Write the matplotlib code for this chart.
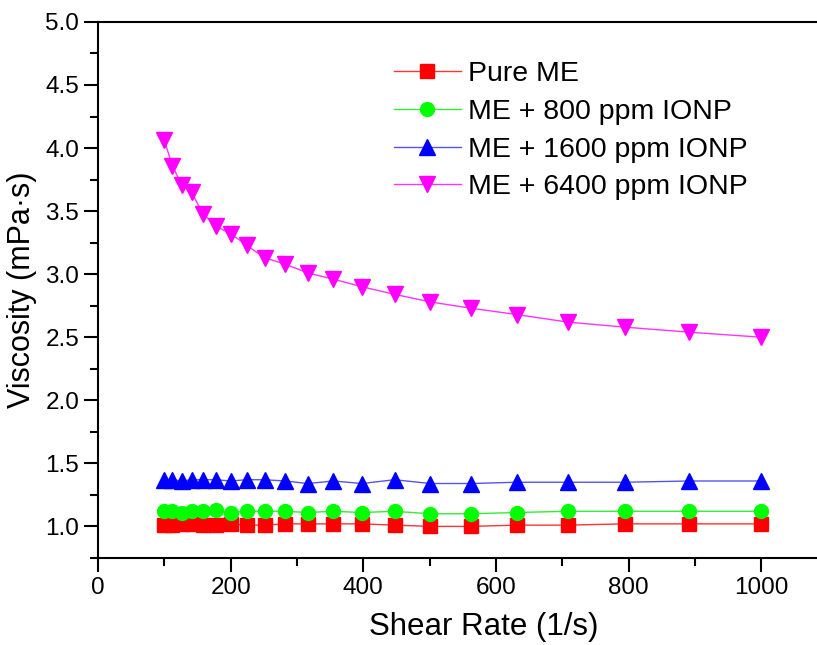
import numpy as np
import matplotlib
matplotlib.use("Agg")
import matplotlib.pyplot as plt
from matplotlib.ticker import MultipleLocator

plt.rcParams['font.family'] = ['Liberation Sans', 'DejaVu Sans']

# shear rate points (log spaced, 10 per decade)
shear_rate = [100, 112, 126, 141, 158, 178, 200, 224, 251, 282, 316,
              355, 398, 447, 501, 562, 631, 708, 794, 891, 1000]

pure_me = [1.01, 1.01, 1.02, 1.02, 1.01, 1.01, 1.02, 1.01, 1.01, 1.02, 1.02,
           1.02, 1.02, 1.01, 1.00, 1.00, 1.01, 1.01, 1.02, 1.02, 1.02]
me_800 = [1.12, 1.12, 1.11, 1.12, 1.12, 1.13, 1.11, 1.12, 1.12, 1.12, 1.11,
          1.12, 1.11, 1.12, 1.10, 1.10, 1.11, 1.12, 1.12, 1.12, 1.12]
me_1600 = [1.37, 1.37, 1.36, 1.37, 1.37, 1.37, 1.36, 1.37, 1.37, 1.36, 1.34,
           1.36, 1.34, 1.37, 1.34, 1.34, 1.35, 1.35, 1.35, 1.36, 1.36]
me_6400 = [4.06, 3.86, 3.71, 3.65, 3.48, 3.38, 3.32, 3.23, 3.13, 3.08, 3.01,
           2.96, 2.90, 2.84, 2.78, 2.73, 2.68, 2.62, 2.58, 2.54, 2.50]

labels = ["Pure ME", "ME + 800 ppm IONP", "ME + 1600 ppm IONP", "ME + 6400 ppm IONP"]

fig = plt.figure(figsize=(8.17, 6.45), dpi=100)
# axes run past the right edge of the figure, like the original crop
ax = fig.add_axes([0.12, 0.135, 0.893, 0.831])

ax.plot(shear_rate, pure_me, '-s', color='#ff3333', mfc='#ff0000', mec='#ff0000',
        lw=1, ms=9.5, label=labels[0])
ax.plot(shear_rate, me_800, '-o', color='#33ee33', mfc='#00ff00', mec='#00ff00',
        lw=1, ms=10, label=labels[1])
ax.plot(shear_rate, me_1600, '-^', color='#5555ee', mfc='#0000ff', mec='#0000ff',
        lw=1, ms=11.5, label=labels[2])
ax.plot(shear_rate, me_6400, '-v', color='#ff33ff', mfc='#ff00ff', mec='#ff00ff',
        lw=1, ms=11.5, label=labels[3])

ax.set_xlim(0, 1100)
ax.set_ylim(0.75, 5.0)
ax.xaxis.set_major_locator(MultipleLocator(200))
ax.xaxis.set_minor_locator(MultipleLocator(100))
ax.yaxis.set_major_locator(MultipleLocator(0.5))
ax.yaxis.set_minor_locator(MultipleLocator(0.25))
ax.yaxis.set_major_formatter(matplotlib.ticker.FormatStrFormatter('%.1f'))

ax.tick_params(which='both', direction='out', width=1.5, labelsize=17.5,
               top=False, right=False, colors='black')
ax.tick_params(which='major', length=10)
ax.tick_params(which='minor', length=6)
for sp in ax.spines.values():
    sp.set_linewidth(1.5)

ax.set_xlabel("Shear Rate (1/s)", fontsize=22.5)
ax.xaxis.set_label_coords(0.528, -0.10)
ax.set_ylabel("Viscosity (mPa·s)", fontsize=22, labelpad=6)

ax.legend(loc='upper left', bbox_to_anchor=(0.39, 0.948), frameon=False,
          fontsize=20.5, handlelength=2.35, handletextpad=0.25, labelspacing=0.41,
          borderaxespad=0)

fig.savefig("out.png", dpi=100)
